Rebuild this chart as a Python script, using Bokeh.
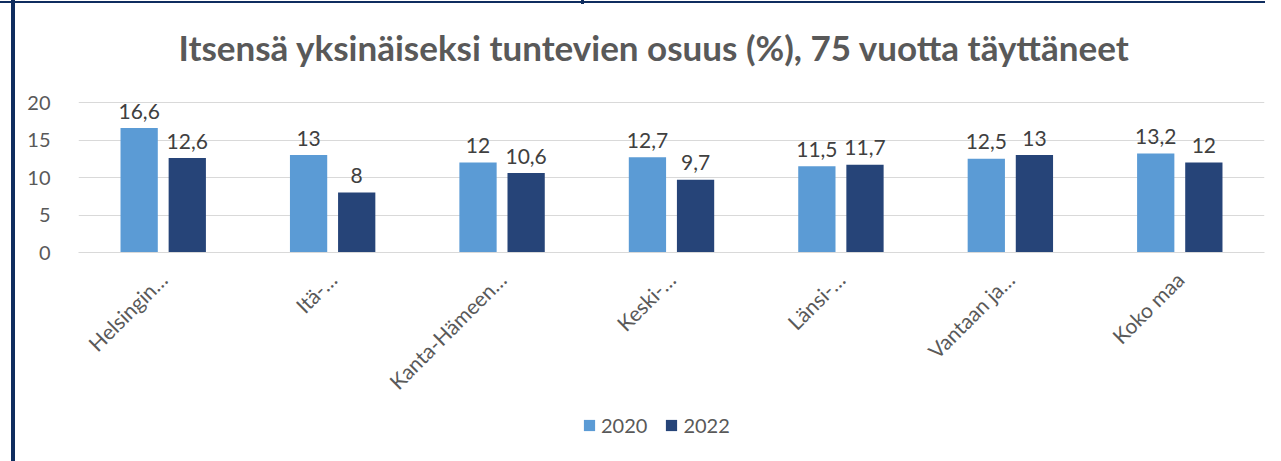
import math
from bokeh.plotting import figure
from bokeh.layouts import column
from bokeh.models import (ColumnDataSource, FactorRange, Range1d, FixedTicker,
                          Legend, LegendItem)
from bokeh.transform import dodge
from bokeh.core.properties import value
from bokeh.embed import file_html
from bokeh.resources import INLINE

# ---- data ----
categories = ["Helsingin…", "Itä-…", "Kanta-Hämeen…", "Keski-…", "Länsi-…", "Vantaan ja…", "Koko maa"]
values_2020 = [16.6, 13, 12, 12.7, 11.5, 12.5, 13.2]
values_2022 = [12.6, 8, 10.6, 9.7, 11.7, 13, 12]
series_names = ["2020", "2022"]
y_ticks = [0, 5, 10, 15, 20]
title_text = "Itsensä yksinäiseksi tuntevien osuus (%), 75 vuotta täyttäneet"


def fmt(v):
    return f"{v:g}".replace(".", ",")


src = ColumnDataSource(dict(
    cat=categories,
    v2020=values_2020,
    v2022=values_2022,
    l2020=[fmt(v) for v in values_2020],
    l2022=[fmt(v) for v in values_2022],
))

C2020 = "#5b9bd5"
C2022 = "#264478"
NAVY = "#0f2d5f"
FONT = "Lato"

deco = ("linear-gradient({c},{c}) 11px 0 / 4px 100% no-repeat, "
        "linear-gradient({c},{c}) 0 1px / 100% 2px no-repeat, "
        "linear-gradient({c},{c}) 581px 0 / 3px 4px no-repeat, white").format(c=NAVY)

p = figure(x_range=FactorRange(*categories), y_range=Range1d(0, 24),
           frame_width=1186, frame_height=180, output_backend="svg", toolbar_location=None,
           min_border_left=78, min_border_right=1, min_border_top=72, min_border_bottom=158)
p.outline_line_color = None
p.background_fill_color = "white"
p.border_fill_alpha = 0

p.title.text = title_text
p.title.align = "left"
p.title.offset = 100
p.title.standoff = 10
p.title.text_font = FONT
p.title.text_font_style = "bold"
p.title.text_font_size = "35px"
p.title.text_color = "#595959"

p.xgrid.grid_line_color = None
p.ygrid.grid_line_color = "#d9d9d9"
p.ygrid.grid_line_width = 1

p.yaxis.ticker = FixedTicker(ticks=y_ticks)
p.yaxis.axis_line_color = None
p.yaxis.major_tick_line_color = None
p.yaxis.minor_tick_line_color = None
p.yaxis.major_label_standoff = 22
p.yaxis.major_label_text_font = FONT
p.yaxis.major_label_text_font_size = "20px"
p.yaxis.major_label_text_color = "#595959"

p.xaxis.axis_line_color = "#d9d9d9"
p.xaxis.major_tick_line_color = None
p.xaxis.minor_tick_line_color = None
p.xaxis.major_label_orientation = math.pi / 4
p.xaxis.major_label_standoff = 17
p.xaxis.major_label_text_font = FONT
p.xaxis.major_label_text_font_size = "21px"
p.xaxis.major_label_text_color = "#595959"

off = 0.142
bw = 0.22
r1 = p.vbar(x=dodge("cat", -off, range=p.x_range), top="v2020", width=bw, source=src,
            fill_color=C2020, line_color=None)
r2 = p.vbar(x=dodge("cat", off, range=p.x_range), top="v2022", width=bw, source=src,
            fill_color=C2022, line_color=None)

for col, lab, dx in (("v2020", "l2020", -off), ("v2022", "l2022", off)):
    p.text(x=dodge("cat", dx, range=p.x_range), y=col, text=lab, source=src,
           text_align="center", text_baseline="alphabetic", y_offset=-17,
           text_font=value(FONT), text_font_size="21px", text_color="#404040")

# ---- legend strip: same series, drawn out of view, only the legend is visible ----
p2 = figure(x_range=FactorRange(*categories), y_range=Range1d(100, 101),
            frame_width=1265, frame_height=51, min_border=0,
            x_axis_location=None, y_axis_location=None,
            output_backend="svg", toolbar_location=None)
p2.outline_line_color = None
p2.grid.grid_line_color = None
p2.background_fill_alpha = 0
p2.border_fill_alpha = 0
s1 = p2.vbar(x=dodge("cat", -off, range=p2.x_range), top="v2020", width=bw, source=src,
             fill_color=C2020, line_color=None)
s2 = p2.vbar(x=dodge("cat", off, range=p2.x_range), top="v2022", width=bw, source=src,
             fill_color=C2022, line_color=None)

legend = Legend(items=[LegendItem(label=series_names[0], renderers=[s1]),
                       LegendItem(label=series_names[1], renderers=[s2])],
                location=(582, 24), orientation="horizontal",
                glyph_width=14, glyph_height=14, label_height=14, label_standoff=5,
                spacing=17, padding=0, margin=0, border_line_color=None,
                background_fill_alpha=0, label_text_font=FONT,
                label_text_font_size="20px", label_text_color="#595959")
p2.add_layout(legend, "center")

layout = column(p, p2, spacing=0, styles={"background": deco})

open("out.html", "w").write(file_html(layout, INLINE))
